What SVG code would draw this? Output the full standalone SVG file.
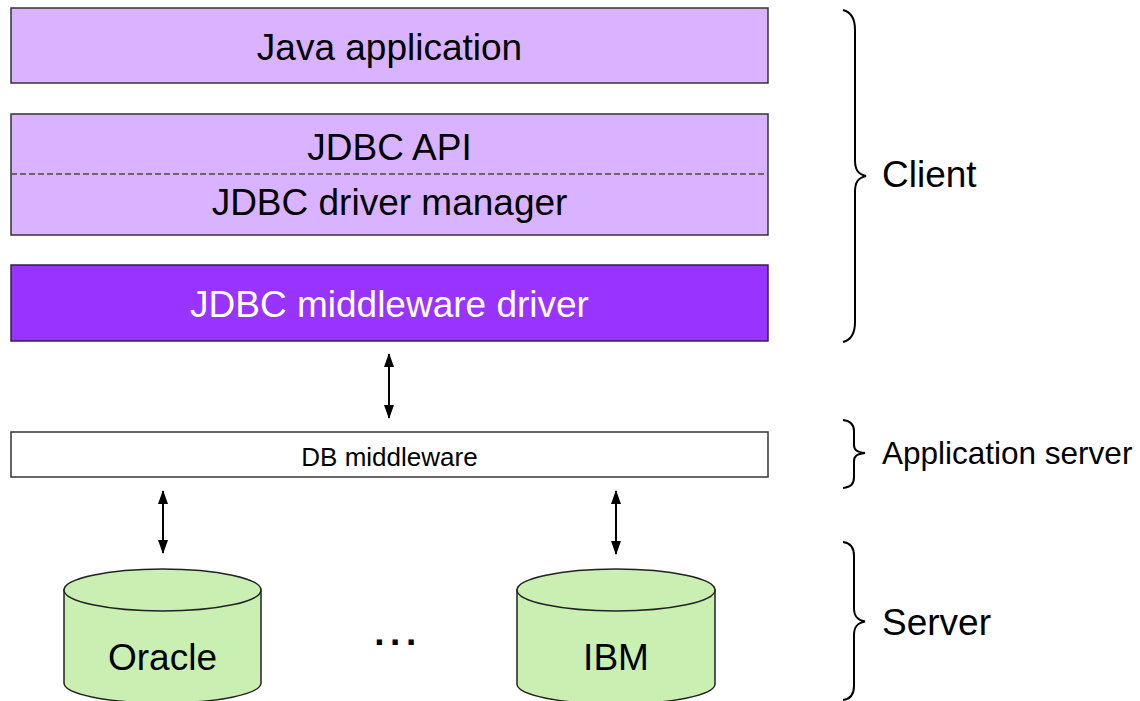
<svg xmlns="http://www.w3.org/2000/svg" width="1140" height="701" viewBox="0 0 1140 701">
<style>
.box{stroke:#333;stroke-width:1.5}
.light{fill:#d9b3ff}
.dark{fill:#9933ff;stroke:#35204d}
.t{font-family:"Liberation Sans",Arial,Helvetica,sans-serif;font-size:37px;fill:#000;text-anchor:middle}
.tw{fill:#fff}
.lbl{font-family:"Liberation Sans",Arial,Helvetica,sans-serif;font-size:37px;fill:#000}
.cyl{fill:#c9efb3;stroke:#222;stroke-width:1.5}
.conn{stroke:#000;stroke-width:2;fill:none;marker-start:url(#ah);marker-end:url(#ah)}
.brace{fill:none;stroke:#000;stroke-width:2}
</style>
<defs>
<marker id="ah" viewBox="0 0 14 10" refX="13" refY="5" markerWidth="14" markerHeight="10" markerUnits="userSpaceOnUse" orient="auto-start-reverse">
<path d="M0,0 L14,5 L0,10 Z" fill="#000"/>
</marker>
</defs>
<rect width="1140" height="701" fill="#fff"/>
<g id="java-application">
<rect class="box light" x="11" y="8" width="757" height="75"/>
<text class="t" x="389.5" y="60">Java application</text>
</g>
<g id="jdbc-api">
<rect class="box light" x="11" y="114" width="757" height="121"/>
<line x1="11" y1="174" x2="768" y2="174" stroke="#4a4a4a" stroke-width="1.5" stroke-dasharray="6,3"/>
<text class="t" x="389.5" y="160">JDBC API</text>
<text class="t" x="389.5" y="215">JDBC driver manager</text>
</g>
<g id="jdbc-middleware-driver">
<rect class="box dark" x="11" y="265" width="757" height="76"/>
<text class="t tw" x="389.5" y="317">JDBC middleware driver</text>
</g>
<g id="db-middleware">
<rect class="box" fill="#fff" x="11" y="432" width="757" height="45"/>
<text class="t" style="font-size:26px" x="389.5" y="466">DB middleware</text>
</g>
<g id="oracle">
<path class="cyl" d="M64,590 L64,683 A98.5,20 0 0 0 261,683 L261,590 Z"/>
<ellipse class="cyl" cx="162.5" cy="590" rx="98.5" ry="21"/>
<text class="t" x="162.5" y="670">Oracle</text>
</g>
<g id="ellipsis">
<text class="t" style="font-weight:bold;letter-spacing:5.5px" x="398" y="645">...</text>
</g>
<g id="ibm">
<path class="cyl" d="M517,590 L517,684 A99,20 0 0 0 715,684 L715,590 Z"/>
<ellipse class="cyl" cx="616" cy="590" rx="99" ry="21"/>
<text class="t" x="616" y="670">IBM</text>
</g>
<g id="client-label">
<path class="brace" d="M843,10 C851,12 855,18 855,30 L855,160 C855,170 858,174 866,176 C858,178 855,182 855,192 L855,322 C855,334 851,340 843,342"/>
<text class="lbl" x="882" y="187">Client</text>
</g>
<g id="appserver-label">
<path class="brace" d="M843,420 C851,421 854,425 854,431 L854,445 C854,450 857,452 865,453 C857,454 854,456 854,461 L854,477 C854,484 851,487 843,488"/>
<text class="lbl" style="font-size:31.5px" x="882" y="464">Application server</text>
</g>
<g id="server-label">
<path class="brace" d="M843,542 C851,543 854,548 854,556 L854,608 C854,616 857,620 865,621.5 C857,623 854,627 854,635 L854,686 C854,694 851,699 843,700"/>
<text class="lbl" x="882" y="635">Server</text>
</g>
<g id="connectors">
<line class="conn" x1="389" y1="354" x2="389" y2="418"/>
<line class="conn" x1="163" y1="491" x2="163" y2="553"/>
<line class="conn" x1="616" y1="491" x2="616" y2="554"/>
</g>
</svg>
